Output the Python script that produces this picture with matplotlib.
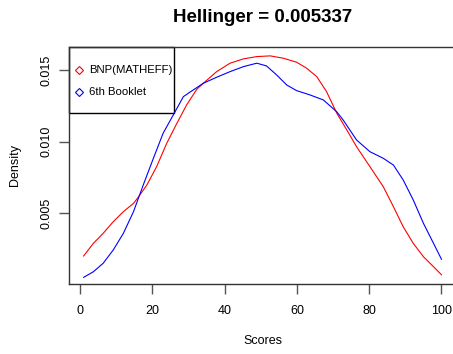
import matplotlib
matplotlib.use("Agg")
import matplotlib.pyplot as plt
from matplotlib.patches import Rectangle

plt.rcParams['font.family'] = ['Liberation Sans', 'DejaVu Sans']

# density estimates
bnp_x = [1, 3.7, 6.4, 9.2, 12.0, 14.8, 16.1, 18.5, 21.2, 24.0, 26.8, 29.5, 32.3,
         34.1, 37.8, 41.5, 45.2, 48.9, 52.6, 56.2, 59.9, 62.7, 65.5, 68.2, 71.0,
         73.8, 76.5, 80.2, 83.9, 86.7, 89.4, 92.2, 95.0, 97.8, 100]
bnp_y = [0.00203, 0.00291, 0.00361, 0.00442, 0.00512, 0.00570, 0.00612, 0.00698,
         0.00826, 0.00989, 0.01128, 0.01256, 0.01365, 0.01407, 0.01488, 0.01547,
         0.01577, 0.01593, 0.01598, 0.01582, 0.01554, 0.01512, 0.01453, 0.01349,
         0.01200, 0.01082, 0.00965, 0.00826, 0.00686, 0.00547, 0.00407, 0.00291,
         0.00198, 0.00128, 0.00072]

booklet_x = [1, 3.7, 6.4, 9.2, 12.0, 14.8, 17.5, 20.3, 23.0, 25.8, 28.6, 31.0,
             34.1, 37.8, 41.5, 45.2, 48.9, 51.6, 54.4, 57.2, 59.9, 63.6, 67.3, 71.0,
             72.8, 76.5, 80.2, 83.9, 86.7, 89.4, 92.2, 95.0, 97.8, 100]
booklet_y = [0.00054, 0.00093, 0.00152, 0.00245, 0.00361, 0.00512, 0.00698, 0.00884,
             0.01059, 0.01186, 0.01314, 0.01355, 0.01407, 0.01449, 0.01488, 0.01523,
             0.01547, 0.01528, 0.01465, 0.01395, 0.01356, 0.01326, 0.01291, 0.01209,
             0.01151, 0.01012, 0.00930, 0.00884, 0.00837, 0.00733, 0.00593, 0.00431,
             0.00291, 0.00180]

series_names = ["BNP(MATHEFF)", "6th Booklet"]
series_colors = ["red", "blue"]
x_ticks = [0, 20, 40, 60, 80, 100]
y_ticks = [0.005, 0.010, 0.015]

fig = plt.figure(figsize=(4.53, 3.54), dpi=100)
W, H = 453, 354
left, right, top, bottom = 69.3, 455.8, 46.7, 284.0
ax = fig.add_axes([left / W, 1 - bottom / H, (right - left) / W, (bottom - top) / H])

ax.plot(bnp_x, bnp_y, color=series_colors[0], lw=0.8)
ax.plot(booklet_x, booklet_y, color=series_colors[1], lw=0.8)

ax.set_xlim(-2.96, 103.96)
ax.set_ylim(0.000077, 0.01662)
ax.set_xticks(x_ticks)
ax.set_xticklabels([str(t) for t in x_ticks])
ax.set_yticks(y_ticks)
ax.set_yticklabels([f"{t:.3f}" for t in y_ticks], rotation=90, va='center')
ax.tick_params(length=7, width=1, color='#555555', labelsize=9, pad=8)
ax.tick_params(axis='y', pad=5)
for s in ax.spines.values():
    s.set_color('#333333')
    s.set_linewidth(1)

ax.set_xlabel("Scores", fontsize=9, va='center')
ax.xaxis.set_label_coords(0.5, -(341 - bottom) / (bottom - top), transform=ax.transAxes)
ax.set_ylabel("Density", fontsize=9, va='center')
ax.yaxis.set_label_coords(-(left - 15.5) / (right - left), 0.5, transform=ax.transAxes)

fig.text((left + right) / 2 / W, 1 - 18 / H, "Hellinger = 0.005337",
         ha='center', va='center', fontsize=13.5, fontweight='bold')

# legend box, top left like R's legend("topleft")
ax.add_patch(Rectangle((0, 0.7219), 0.2717, 0.2781, transform=ax.transAxes,
                       fill=False, edgecolor='black', lw=1, clip_on=False))
for name, col, ypos in zip(series_names, series_colors, [0.9018, 0.8078]):
    ax.plot([0.0251], [ypos], marker='D', markersize=4.2, fillstyle='none',
            color=col, mew=0.8, transform=ax.transAxes)
    ax.text(0.051, ypos, name, transform=ax.transAxes, va='center', fontsize=8.2)

fig.savefig("out.png", dpi=100)
